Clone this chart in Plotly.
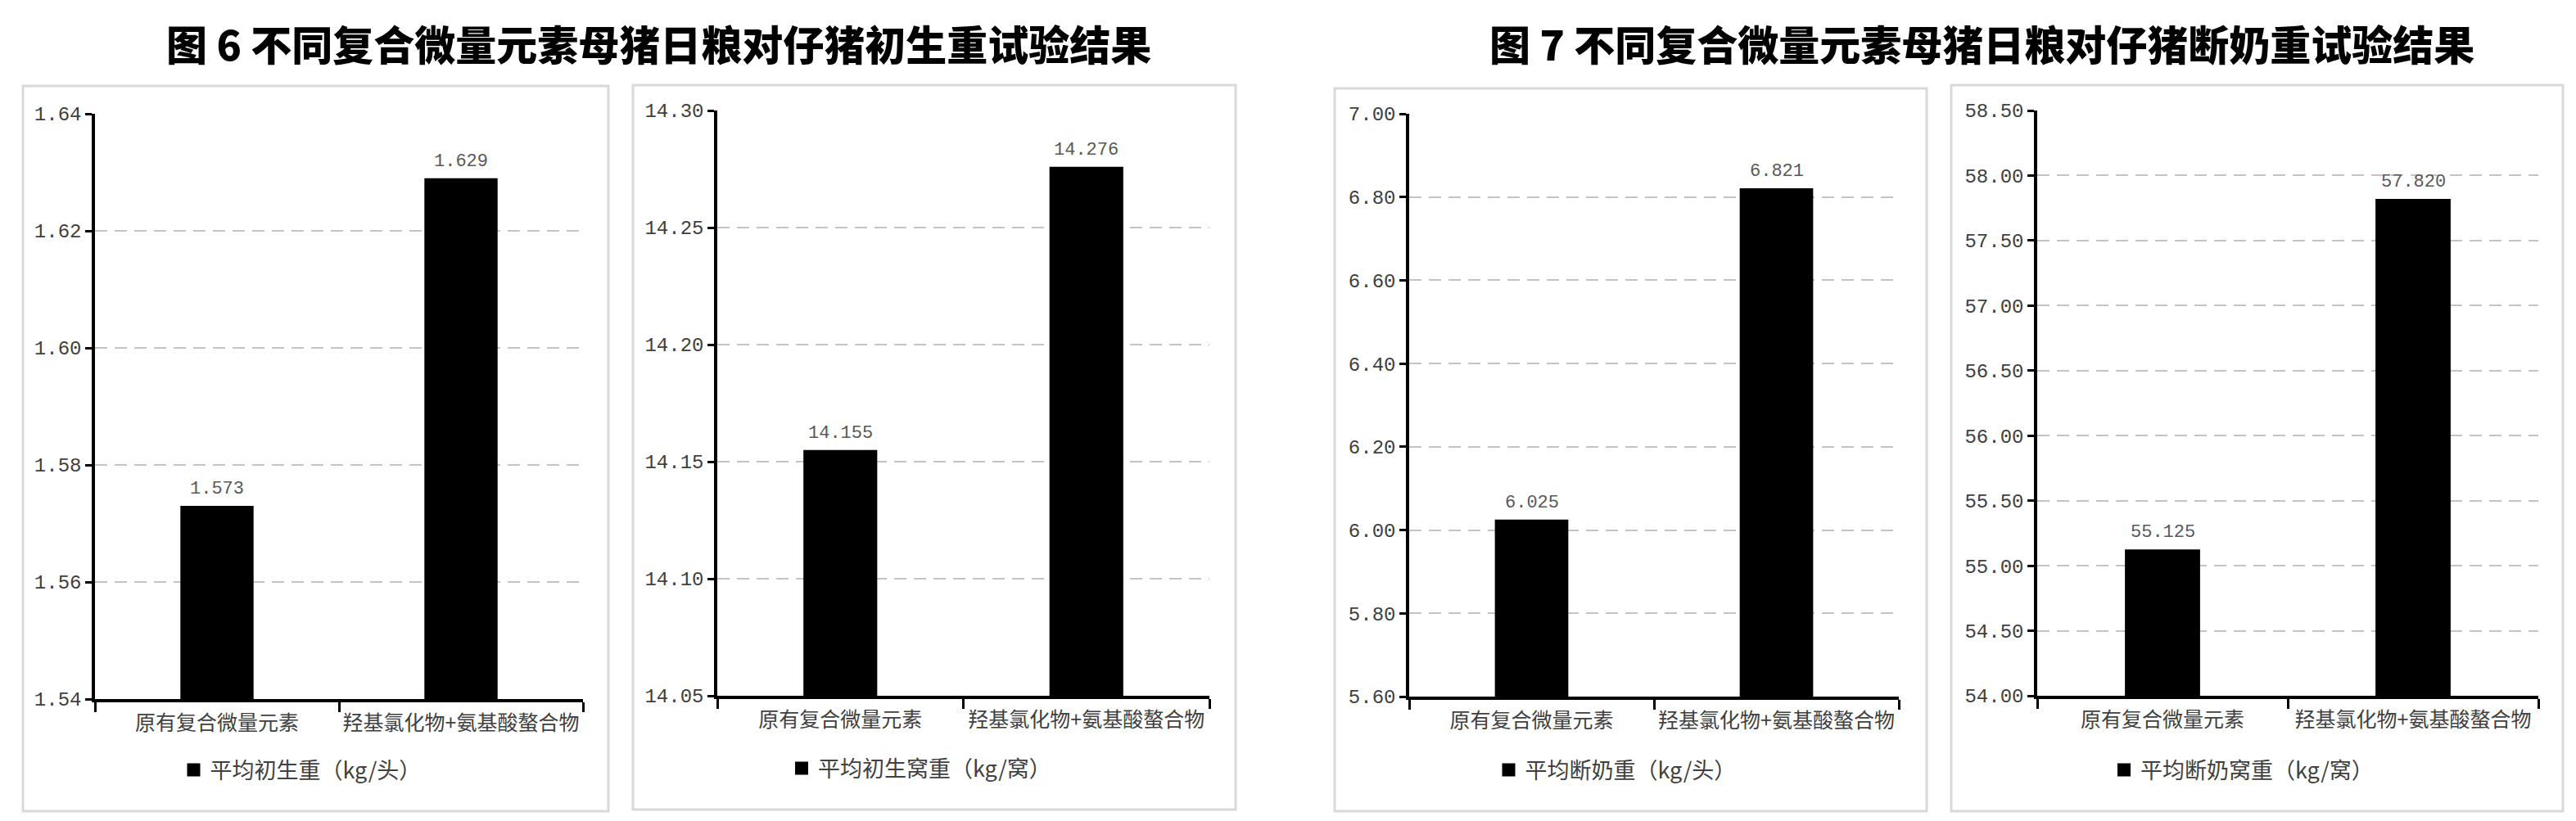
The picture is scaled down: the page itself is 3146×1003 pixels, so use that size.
import plotly.graph_objects as go

# ---------------- data ----------------
categories = ["原有复合微量元素", "羟基氯化物+氨基酸螯合物"]
birth_weight = [1.573, 1.629]            # 平均初生重（kg/头）
birth_litter_weight = [14.155, 14.276]   # 平均初生窝重（kg/窝）
wean_weight = [6.025, 6.821]             # 平均断奶重（kg/头）
wean_litter_weight = [55.125, 57.820]    # 平均断奶窝重（kg/窝）

series_names = ["平均初生重（kg/头）", "平均初生窝重（kg/窝）",
                "平均断奶重（kg/头）", "平均断奶窝重（kg/窝）"]
series_values = [birth_weight, birth_litter_weight, wean_weight, wean_litter_weight]
y_ranges = [[1.54, 1.64], [14.05, 14.30], [5.60, 7.00], [54.00, 58.50]]
y_dticks = [0.02, 0.05, 0.2, 0.5]
titles = ["图 6 不同复合微量元素母猪日粮对仔猪初生重试验结果",
          "图 7 不同复合微量元素母猪日粮对仔猪断奶重试验结果"]

# ---------------- layout geometry (pixels) ----------------
W, H = 3146, 1003
plot_px = [  # x0, x1, ytop, ybottom
    (108, 704, 131, 846),
    (868, 1469, 127, 842),
    (1713, 2311, 131, 843),
    (2480, 3092, 127, 842),
]
box_px = [
    (20, 735, 97, 983),
    (765, 1501, 96, 981),
    (1622, 2345, 100, 983),
    (2375, 3122, 96, 983),
]
legend_px = [(360, 933), (1116, 931), (1966, 933), (2731, 933)]
title_px = [(796, 44), (2412, 44)]

CJK = "Noto Sans CJK SC"
NUM = "Liberation Mono"

fig = go.Figure()
layout = dict(
    width=W, height=H,
    margin=dict(l=0, r=0, t=0, b=0, autoexpand=False),
    paper_bgcolor="white", plot_bgcolor="white",
    bargap=0.7,
    hovermode=False,
)
annotations = []
shapes = []

for i in range(4):
    sfx = "" if i == 0 else str(i + 1)
    xa, ya = "x" + sfx, "y" + sfx
    lg = "legend" + sfx
    vals = series_values[i]
    fig.add_trace(go.Bar(
        x=categories, y=vals, xaxis=xa, yaxis=ya,
        marker=dict(color="black", line=dict(width=0)),
        showlegend=False, name=series_names[i],
    ))
    # legend entry (square symbol like the original)
    fig.add_trace(go.Scatter(
        x=[None], y=[None], xaxis=xa, yaxis=ya, mode="markers",
        marker=dict(symbol="square", size=16, color="black"),
        name=series_names[i], legend=lg, showlegend=True,
    ))
    x0, x1, yt, yb = plot_px[i]
    layout["xaxis" + sfx] = dict(
        domain=[x0 / W, x1 / W], anchor=ya, type="category",
        range=[-0.5, 1.5], showline=True, linewidth=3.5, linecolor="black",
        ticks="outside", tickson="boundaries", ticklen=12, tickwidth=3,
        tickcolor="black", showgrid=False, zeroline=False,
        tickangle=0, automargin=False,
        tickfont=dict(family=CJK, size=25, color="#404040"),
        ticklabelstandoff=4,
    )
    layout["yaxis" + sfx] = dict(
        domain=[1 - yb / H, 1 - yt / H], anchor=xa,
        range=y_ranges[i], tick0=y_ranges[i][0], dtick=y_dticks[i],
        tickformat=".2f", showline=True, linewidth=3.5, linecolor="black",
        ticks="outside", ticklen=8, tickwidth=3, tickcolor="black",
        showgrid=True, gridcolor="#c4c4c4", gridwidth=2, griddash="15px,9px",
        zeroline=False, automargin=False,
        tickfont=dict(family=NUM, size=24, color="#404040"),
    )
    lx, ly = legend_px[i]
    layout[lg] = dict(
        x=lx / W, y=1 - ly / H, xanchor="center", yanchor="middle",
        orientation="h", itemsizing="trace", itemwidth=30,
        bgcolor="rgba(0,0,0,0)",
        font=dict(family=CJK, size=27, color="#404040"),
    )
    for c, v in zip(categories, vals):
        annotations.append(dict(
            x=c, y=v, xref=xa, yref=ya, text=f"{v:.3f}", showarrow=False,
            yanchor="bottom", xanchor="center", yshift=6,
            font=dict(family=NUM, size=22, color="#595959"),
        ))
    bx0, bx1, byt, byb = box_px[i]
    shapes.append(dict(
        type="rect", xref="paper", yref="paper",
        x0=bx0 / W, x1=bx1 / W, y0=1 - byb / H, y1=1 - byt / H,
        line=dict(color="#d9d9d9", width=3), fillcolor="rgba(0,0,0,0)",
        layer="below",
    ))

for t, (tx, ty) in zip(titles, title_px):
    annotations.append(dict(
        x=tx / W, y=1 - ty / H, xref="paper", yref="paper", text=t,
        showarrow=False, xanchor="center", yanchor="middle",
        font=dict(family=CJK, size=50, color="black", weight=900),
    ))

layout["annotations"] = annotations
layout["shapes"] = shapes
fig.update_layout(**layout)

fig.write_html("out.html")
